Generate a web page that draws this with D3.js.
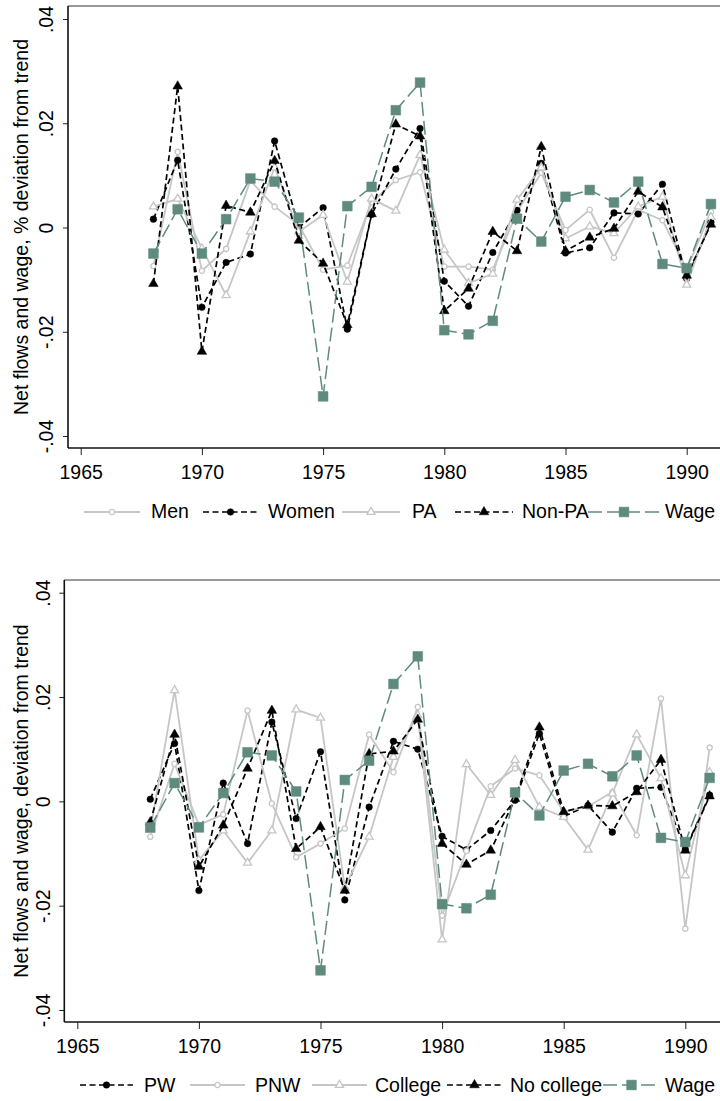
<!DOCTYPE html>
<html>
<head>
<meta charset="utf-8">
<script src="https://cdn.jsdelivr.net/npm/d3@7/dist/d3.min.js"></script>
<style>
  html, body { margin: 0; padding: 0; background: #fff; }
  svg { display: block; }
  text { font-family: "Liberation Sans", Arial, sans-serif; fill: #000; }
</style>
</head>
<body>
<svg id="chart" width="720" height="1101"></svg>
<script>
// ---------- DATA ----------
const years = [1968,1969,1970,1971,1972,1973,1974,1975,1976,1977,1978,1979,
               1980,1981,1982,1983,1984,1985,1986,1987,1988,1989,1990,1991];

// Top panel
const menVals    = [-0.0074, 0.0145,-0.0083,-0.0041, 0.0090, 0.0040, 0.0005,-0.0081,-0.0073, 0.0048, 0.0091, 0.0106,
                    -0.0075,-0.0075,-0.0081, 0.0030, 0.0105,-0.0005, 0.0034,-0.0058, 0.0034, 0.0014,-0.0080, 0.0030];
const womenVals  = [ 0.0016, 0.0129,-0.0153,-0.0067,-0.0051, 0.0166, 0.0000, 0.0038,-0.0195, 0.0025, 0.0112, 0.0190,
                    -0.0103,-0.0151,-0.0048, 0.0033, 0.0123,-0.0049,-0.0039, 0.0028, 0.0026, 0.0083,-0.0098, 0.0010];
const paVals     = [ 0.0040, 0.0055,-0.0040,-0.0130,-0.0008, 0.0115,-0.0008, 0.0024,-0.0104, 0.0055, 0.0032, 0.0139,
                    -0.0043,-0.0107,-0.0089, 0.0053, 0.0115,-0.0021, 0.0002,-0.0011, 0.0040, 0.0059,-0.0110, 0.0020];
const nonPaVals  = [-0.0108, 0.0271,-0.0238, 0.0042, 0.0029, 0.0128,-0.0025,-0.0069,-0.0187, 0.0026, 0.0198, 0.0175,
                    -0.0160,-0.0117,-0.0008,-0.0045, 0.0155,-0.0045,-0.0019,-0.0002, 0.0069, 0.0039,-0.0092, 0.0006];
const wageVals   = [-0.0050, 0.0035,-0.0050, 0.0016, 0.0094, 0.0088, 0.0019,-0.0324, 0.0041, 0.0078, 0.0225, 0.0278,
                    -0.0197,-0.0205,-0.0179, 0.0017,-0.0027, 0.0059, 0.0072, 0.0048, 0.0088,-0.0070,-0.0078, 0.0045];

// Bottom panel
const pwVals        = [ 0.0004, 0.0111,-0.0171, 0.0035,-0.0081, 0.0152,-0.0033, 0.0095,-0.0189,-0.0011, 0.0115, 0.0100,
                       -0.0067,-0.0093,-0.0056, 0.0002, 0.0130,-0.0029,-0.0008,-0.0059, 0.0025, 0.0027,-0.0092, 0.0012];
const pnwVals       = [-0.0068, 0.0072,-0.0045,-0.0025, 0.0174,-0.0004,-0.0107,-0.0081,-0.0052, 0.0128, 0.0056, 0.0181,
                       -0.0219,-0.0095, 0.0029, 0.0063, 0.0050,-0.0020,-0.0010, 0.0018,-0.0065, 0.0197,-0.0244, 0.0103];
const collegeVals   = [-0.0055, 0.0213,-0.0113,-0.0056,-0.0118,-0.0056, 0.0176, 0.0160,-0.0165,-0.0068, 0.0085, 0.0165,
                       -0.0265, 0.0071, 0.0012, 0.0079,-0.0011,-0.0030,-0.0093, 0.0015, 0.0128, 0.0044,-0.0142, 0.0056];
const noCollegeVals = [-0.0040, 0.0128,-0.0125,-0.0046, 0.0063, 0.0174,-0.0091,-0.0049,-0.0171, 0.0091, 0.0096, 0.0157,
                       -0.0081,-0.0121,-0.0094, 0.0005, 0.0142,-0.0020,-0.0008,-0.0009, 0.0018, 0.0080,-0.0094, 0.0010];

const xTicks = [1965, 1970, 1975, 1980, 1985, 1990];
const yTicks = [-0.04, -0.02, 0, 0.02, 0.04];
const yTickLabels = ["-.04", "-.02", "0", ".02", ".04"];

// ---------- STYLES ----------
const GRAY = "#c6c6c6", BLACK = "#000000", TEAL = "#5f8b7f";
const styles = {
  grayCircle:  { color: GRAY,  dash: null,   width: 1.8, symbol: d3.symbolCircle,   size: 22, fill: "#fff", stroke: GRAY },
  grayTri:     { color: GRAY,  dash: null,   width: 1.8, symbol: d3.symbolTriangle, size: 28, fill: "#fff", stroke: GRAY },
  blackCircle: { color: BLACK, dash: "6,3.5",  width: 1.7, symbol: d3.symbolCircle,   size: 34, fill: BLACK, stroke: BLACK },
  blackTri:    { color: BLACK, dash: "6,3.5",  width: 1.7, symbol: d3.symbolTriangle, size: 40, fill: BLACK, stroke: BLACK },
  wage:        { color: TEAL,  dash: "14,5", width: 1.5, symbol: d3.symbolSquare,   size: 95, fill: TEAL,  stroke: TEAL }
};

const panels = [
  {
    top: 6, bottom: 448, left: 68, right: 720,
    xA: 80.7, xB: 686.7, yTop: 19, yBot: 436,
    title: "Net flows and wage, % deviation from trend", titleX: 28,
    yLabelX: 53, xLabelY: 479, legendY: 512, legendTextY: 518,
    series: [
      { label: "Men",    vals: menVals,   st: "grayCircle",  lx0: 84,  lx1: 140, tx: 151 },
      { label: "Women",  vals: womenVals, st: "blackCircle", lx0: 203, lx1: 258, tx: 268 },
      { label: "PA",     vals: paVals,    st: "grayTri",     lx0: 342, lx1: 400, tx: 412 },
      { label: "Non-PA", vals: nonPaVals, st: "blackTri",    lx0: 455, lx1: 513, tx: 522 },
      { label: "Wage",   vals: wageVals,  st: "wage",        lx0: 588, lx1: 660, tx: 665 }
    ]
  },
  {
    top: 580, bottom: 1022, left: 64.3, right: 720,
    xA: 77.3, xB: 685.3, yTop: 592.7, yBot: 1010,
    title: "Net flows and wage, deviation from trend", titleX: 28,
    yLabelX: 50, xLabelY: 1053, legendY: 1085, legendTextY: 1092,
    series: [
      { label: "PW",         vals: pwVals,        st: "blackCircle", lx0: 80,  lx1: 133, tx: 144 },
      { label: "PNW",        vals: pnwVals,       st: "grayCircle",  lx0: 190, lx1: 245, tx: 255 },
      { label: "College",    vals: collegeVals,   st: "grayTri",     lx0: 312, lx1: 367, tx: 375 },
      { label: "No college", vals: noCollegeVals, st: "blackTri",    lx0: 447, lx1: 502, tx: 510 },
      { label: "Wage",       vals: wageVals,      st: "wage",        lx0: 603, lx1: 660, tx: 665 }
    ]
  }
];

const svg = d3.select("#chart");
const FONT = 19.5;

panels.forEach(p => {
  const g = svg.append("g");
  const x = d3.scaleLinear().domain([1965, 1990]).range([p.xA, p.xB]);
  const y = d3.scaleLinear().domain([-0.04, 0.04]).range([p.yBot, p.yTop]);

  // frame: top border
  g.append("line").attr("x1", p.left).attr("x2", p.right).attr("y1", p.top).attr("y2", p.top)
    .attr("stroke", "#333").attr("stroke-width", 1);

  // y axis
  const yAxis = d3.axisLeft(y).tickValues(yTicks).tickSize(5).tickSizeOuter(0)
    .tickFormat((d, i) => yTickLabels[i]);
  const ya = g.append("g").attr("transform", `translate(${p.left},0)`).call(yAxis);
  ya.select(".domain").remove();
  ya.selectAll(".tick line").attr("stroke", "#222").attr("stroke-width", 1);
  ya.selectAll(".tick text")
    .attr("x", null).attr("dy", null)
    .attr("transform", d => `translate(${p.yLabelX - p.left},0) rotate(-90)`)
    .attr("text-anchor", "middle")
    .style("font-family", '"Liberation Sans", Arial, sans-serif')
    .style("font-size", FONT + "px").attr("fill", "#000");
  g.append("line").attr("x1", p.left).attr("x2", p.left).attr("y1", p.top).attr("y2", p.bottom)
    .attr("stroke", "#111").attr("stroke-width", 1.6);

  // x axis
  const xAxis = d3.axisBottom(x).tickValues(xTicks).tickSize(7).tickSizeOuter(0).tickFormat(d3.format("d"));
  const xa = g.append("g").attr("transform", `translate(0,${p.bottom})`).call(xAxis);
  xa.select(".domain").remove();
  xa.selectAll(".tick line").attr("stroke", "#222").attr("stroke-width", 1);
  xa.selectAll(".tick text")
    .attr("y", p.xLabelY - p.bottom).attr("dy", null)
    .style("font-family", '"Liberation Sans", Arial, sans-serif')
    .style("font-size", FONT + "px").attr("fill", "#000");
  g.append("line").attr("x1", p.left).attr("x2", p.right).attr("y1", p.bottom).attr("y2", p.bottom)
    .attr("stroke", "#111").attr("stroke-width", 1.6);

  // y title
  g.append("text")
    .attr("transform", `translate(${p.titleX},${(p.top + p.bottom) / 2}) rotate(-90)`)
    .attr("text-anchor", "middle")
    .style("font-size", FONT + "px")
    .text(p.title);

  // series
  const line = d3.line().x(d => x(d.year)).y(d => y(d.v));
  const plot = g.append("g");
  p.series.forEach(s => {
    const st = styles[s.st];
    const data = years.map((yr, i) => ({ year: yr, v: s.vals[i] }));
    plot.append("path").datum(data)
      .attr("d", line).attr("fill", "none")
      .attr("stroke", st.color).attr("stroke-width", st.width)
      .attr("stroke-dasharray", st.dash)
      .attr("stroke-linejoin", "round");
    const sym = d3.symbol().type(st.symbol).size(st.size);
    plot.selectAll(null).data(data).enter().append("path")
      .attr("d", sym)
      .attr("transform", d => `translate(${x(d.year)},${y(d.v)})`)
      .attr("fill", st.fill).attr("stroke", st.stroke).attr("stroke-width", st.fill === "#fff" ? 1.3 : 0.5);

    // legend
    const lg = g.append("g");
    lg.append("line").attr("x1", s.lx0).attr("x2", s.lx1).attr("y1", p.legendY).attr("y2", p.legendY)
      .attr("stroke", st.color).attr("stroke-width", st.width).attr("stroke-dasharray", st.dash);
    lg.append("path").attr("d", sym)
      .attr("transform", `translate(${(s.lx0 + s.lx1) / 2},${p.legendY})`)
      .attr("fill", st.fill).attr("stroke", st.stroke).attr("stroke-width", st.fill === "#fff" ? 1.3 : 0.5);
    lg.append("text").attr("x", s.tx).attr("y", p.legendTextY)
      .style("font-size", FONT + "px").text(s.label);
  });
});
</script>
</body>
</html>
